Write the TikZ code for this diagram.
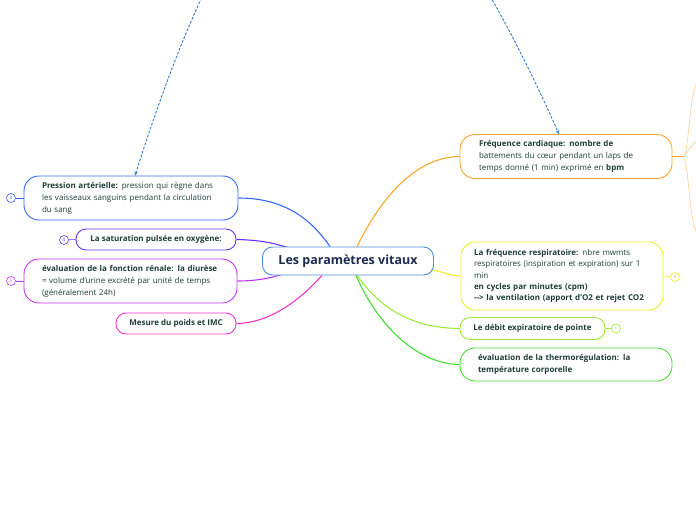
\documentclass[tikz,border=0pt]{standalone}
\usepackage{fontspec}
\setmainfont{Open Sans}
\usetikzlibrary{calc,backgrounds,arrows.meta}
\definecolor{txt}{HTML}{1F3D36}
\definecolor{ctxt}{HTML}{1A2B4F}
\definecolor{cblue}{HTML}{4A90D9}
\definecolor{pblue}{HTML}{3366FF}
\definecolor{ppurp}{HTML}{6633F5}
\definecolor{pviol}{HTML}{C233F0}
\definecolor{ppink}{HTML}{F033C8}
\definecolor{porange}{HTML}{FFA52A}
\definecolor{plorange}{HTML}{FFD8A8}
\definecolor{pyellow}{HTML}{EEEE22}
\definecolor{plgreen}{HTML}{9BEB3C}
\definecolor{pgreen}{HTML}{44DD33}
\definecolor{relblue}{HTML}{3078D0}
\begin{document}
\begin{tikzpicture}[x=1pt,y=-1pt,
  every node/.style={font=\fontsize{8}{12}\selectfont, text=txt},
  box/.style={draw, fill=white, line width=0.9pt, rounded corners=15pt, align=left, inner ysep=0pt},
  sbox/.style={draw, fill=white, line width=0.9pt, rounded corners=10pt, align=center, inner ysep=0pt, font=\fontsize{8}{12}\selectfont\bfseries},
  num/.style={draw, fill=white, circle, line width=0.6pt, minimum size=9pt, inner sep=0pt, font=\fontsize{4.5}{4.5}\selectfont},
  branch/.style={line width=1.1pt},
  rel/.style={draw=relblue, line width=0.9pt, dash pattern=on 2.6pt off 1.6pt, {Stealth[length=4pt,width=3.5pt]}-{Stealth[length=4pt,width=3.5pt]}}
]
\useasboundingbox (0,0) rectangle (696,520);
\clip (0,0) rectangle (696,520);

% central node
\node[draw=cblue, fill=white, line width=0.9pt, rounded corners=10pt, minimum width=171pt, minimum height=28pt, inner sep=0pt,
  font=\fontsize{12.5}{15}\selectfont\bfseries, text=ctxt] (c) at (348,261) {Les paramètres vitaux};

% left boxes
\node[box, draw=pblue, text width=178pt, inner xsep=18pt, minimum height=44pt] (pa) at (131,198)
  {\textbf{Pression artérielle:} pression qui règne dans\\les vaisseaux sanguins pendant la circulation\\du sang};
\node[sbox, draw=ppurp, minimum width=160pt, minimum height=21pt] (sat) at (156,239.5) {La saturation pulsée en oxygène:};
\node[box, draw=pviol, text width=177pt, inner xsep=18pt, minimum height=44pt] (ren) at (130.5,281)
  {\textbf{évaluation de la fonction rénale: la diurèse}\\= volume d'urine excrété par unité de temps\\(généralement 24h)};
\node[sbox, draw=ppink, minimum width=120pt, minimum height=21pt] (imc) at (176,323.5) {Mesure du poids et IMC};

% right boxes
\node[box, draw=porange, text width=174pt, inner xsep=19pt, minimum height=44pt] (fc) at (566,156.5)
  {\textbf{Fréquence cardiaque: nombre de}\\battements du cœur pendant un laps de\\temps donné (1 min) exprimé en \textbf{bpm}};
\node[box, draw=pyellow, rounded corners=14pt, text width=176pt, inner xsep=13pt, minimum height=68pt,
  font=\fontsize{8}{11.4}\selectfont] (fr) at (562,276)
  {\textbf{La fréquence respiratoire:} nbre mwmts\\respiratoires (inspiration et expiration) sur 1\\min\\\textbf{en cycles par minutes (cpm)}\\\textbf{-{}-> la ventilation (apport d'O2 et rejet CO2}};
\node[sbox, draw=plgreen, minimum width=145pt, minimum height=22pt] (deb) at (532.5,328.5) {Le débit expiratoire de pointe};
\node[box, draw=pgreen, text width=176pt, inner xsep=18pt, minimum height=33pt, font=\fontsize{8}{12}\selectfont\bfseries] (th) at (566,364.5)
  {évaluation de la thermorégulation: la\\température corporelle};

% numbered circles
\node[num, draw=pblue, text=pblue] (n3) at (11,198) {3};
\node[num, draw=ppurp, text=ppurp] (n4) at (64,240) {4};
\node[num, draw=pviol, text=pviol] (n5) at (11,281) {5};
\node[num, draw=pyellow, text=pyellow!80!black] (n4r) at (675,277) {4};
\node[num, draw=plgreen, text=plgreen] (n1) at (616,328.5) {1};
\draw[draw=pblue, line width=0.6pt] (n3) -- (pa.west);
\draw[draw=ppurp, line width=0.6pt] (n4) -- (sat.west);
\draw[draw=pviol, line width=0.6pt] (n5) -- (ren.west);
\draw[draw=pyellow, line width=0.6pt] (fr.east) -- (n4r);
\draw[draw=plgreen, line width=0.6pt] (deb.east) -- (n1);

% off-page children of Fréquence cardiaque
\coordinate (fk) at ($(fc.east)+(11,0)$);
\coordinate (k1) at (700,78);
\coordinate (k2) at (700,140);
\coordinate (k3) at (700,238);
\draw[porange, line width=1pt] (fc.east) -- (fk);
\draw[plorange, line width=0.8pt] (fk) .. controls (690,150) and (688,90) .. (k1);
\draw[plorange, line width=0.8pt] (fk) .. controls (690,150) and (692,142) .. (k2);
\draw[plorange, line width=0.8pt] (fk) .. controls (690,170) and (688,225) .. (k3);

% relationship
\draw[rel] ($(pa.north)+(4,0)$) .. controls (262,-224) and (380,-267) .. ($(fc.north)+(-7,0)$);

% branches
\begin{scope}[on background layer]
\draw[branch, pblue] ($(c.north)+(-18,0)$) .. controls (315,225) and (290,198) .. (pa.east);
\draw[branch, ppurp] ($(c.west)+(30,-12)$) .. controls (280,245) and (265,240) .. (sat.east);
\draw[branch, pviol] ($(c.west)+(30,10)$) .. controls (280,275) and (265,281) .. (ren.east);
\draw[branch, ppink] ($(c.south)+(-26,0)$) .. controls (300,300) and (270,323) .. (imc.east);
\draw[branch, porange] ($(c.north)+(9,0)$) .. controls (385,190) and (420,157) .. (fc.west);
\draw[branch, pyellow] ($(c.east)+(-6,8)$) .. controls (445,272) and (450,276) .. (fr.west);
\draw[branch, plgreen] ($(c.south)+(9,0)$) .. controls (385,315) and (420,328) .. (deb.west);
\draw[branch, pgreen] ($(c.south)+(8,0)$) .. controls (380,330) and (420,364) .. (th.west);
\end{scope}
\end{tikzpicture}
\end{document}
